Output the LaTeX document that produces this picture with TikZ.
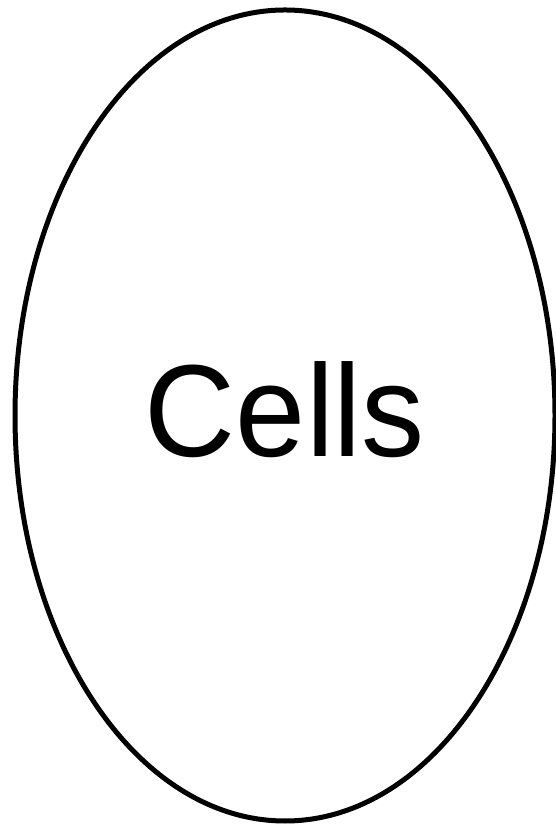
\documentclass[tikz,border=0pt]{standalone}
\usepackage{fontspec}
\setmainfont{Liberation Sans}
\usetikzlibrary{shapes.geometric}

\begin{document}
\begin{tikzpicture}[
    x=1pt, y=1pt,
    cellwall/.style={ellipse, draw, line width=5pt, inner sep=0pt, outer sep=0pt,
        minimum width=540pt, minimum height=811pt},
    celltext/.style={inner sep=0pt, font=\fontsize{126}{130}\selectfont}
]
\useasboundingbox (0,0) rectangle (555,826);
\node[cellwall] (wall) at (285,410.5) {};
\node[celltext, yshift=5.5pt] (cells) at (wall.center) {\scalebox{1}[1.04]{Cells}};
\end{tikzpicture}
\end{document}
